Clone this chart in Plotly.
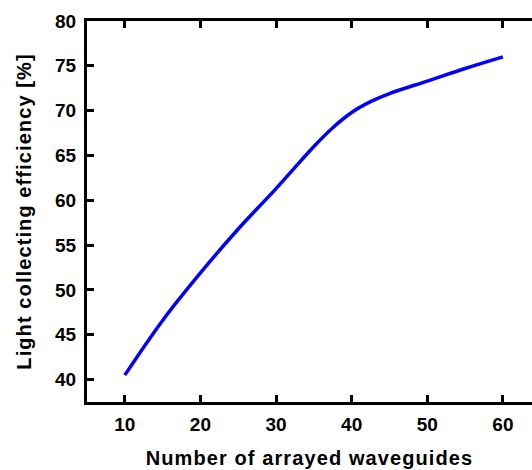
import plotly.graph_objects as go

waveguides = [10, 15, 20, 25, 30, 35, 37.5, 40, 42.5, 45, 50, 55, 60]
efficiency = [40.5, 46.6, 51.9, 56.8, 61.3, 66.0, 68.1, 69.8, 71.0, 71.9, 73.3, 74.7, 76.0]

x_ticks = [10, 20, 30, 40, 50, 60]
y_ticks = [40, 45, 50, 55, 60, 65, 70, 75, 80]

font_family = "Liberation Sans, Arial, sans-serif"

fig = go.Figure()
fig.add_trace(go.Scatter(
    x=waveguides, y=efficiency, mode="lines",
    line=dict(color="#0000ff", width=3.5, shape="spline", smoothing=1.0),
    showlegend=False,
))

axis_common = dict(
    showgrid=False, zeroline=False, showline=True, linecolor="black", linewidth=3,
    ticks="inside", ticklen=7, tickwidth=2.5, tickcolor="black",
    tickfont=dict(family=font_family, size=19, color="black", weight="bold"),
)

fig.update_layout(
    width=532, height=470,
    margin=dict(l=87, r=0, t=21, b=68),
    paper_bgcolor="white", plot_bgcolor="white",
    xaxis=dict(
        **axis_common, range=[5, 63.85], tickvals=x_ticks, mirror="ticks",
        ticklabelstandoff=3,
        title=dict(text="Number of arrayed waveguides", standoff=18,
                   font=dict(family=font_family, size=20, color="black", weight="bold")),
    ),
    yaxis=dict(
        **axis_common, range=[37.5, 80], tickvals=y_ticks, mirror=False,
        ticklabelstandoff=4,
        title=dict(text="Light collecting efficiency [%]", standoff=19,
                   font=dict(family=font_family, size=20, color="black", weight="bold")),
    ),
)

post = (
    "document.body.style.margin='0';document.body.style.overflow='hidden';"
    "document.querySelectorAll('.xtitle, .ytitle').forEach(function(e){e.style.letterSpacing='1.1px';});"
)
fig.write_html("out.html", post_script=post, config={"displayModeBar": False})
